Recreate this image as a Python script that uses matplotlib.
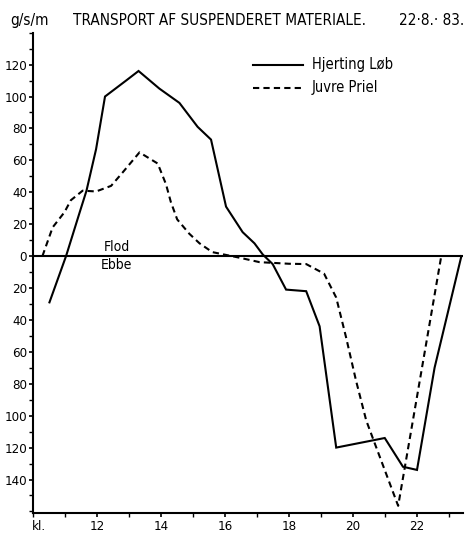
import matplotlib
matplotlib.use("Agg")
import matplotlib.pyplot as plt
from matplotlib.ticker import MultipleLocator, FixedLocator, FuncFormatter

plt.rcParams['font.family'] = ['DejaVu Sans']
plt.rcParams['font.stretch'] = 'condensed'

# Hourly suspended-sediment transport (g/s/m), positive = flood, negative = ebb
hjerting_hours = [10.5, 11.02, 11.44, 11.66, 11.96, 12.24, 12.9, 13.29, 13.94, 14.57,
                  15.14, 15.56, 16.03, 16.55, 16.92, 17.18, 17.49, 17.91, 18.54, 18.96,
                  19.48, 21.0, 21.57, 22.01, 22.56, 23.4]
hjerting_transport = [-29, 0, 27, 41, 67, 100, 110, 116, 105, 96,
                      81, 73, 31, 15, 8, 1, -5, -21, -22, -44,
                      -120, -114, -132, -134, -70, 0]

juvre_hours = [10.28, 10.6, 10.97, 11.17, 11.54, 11.96, 12.43, 12.8, 13.32, 13.89,
               14.15, 14.3, 14.5, 14.88, 15.2, 15.6, 16.45, 17.08, 18.0, 18.54,
               19.1, 19.48, 19.79, 20.1, 20.42, 20.68, 21.42, 22.77]
juvre_transport = [0, 18, 27.5, 35, 41, 40.5, 44, 52.6, 65, 58,
                   45, 34, 23, 14, 8, 2.5, -1, -3.8, -4.8, -5,
                   -11, -26, -51, -78, -103, -117, -156.5, 0]

x_tick_labels = [12, 14, 16, 18, 20, 22]
y_tick_values = [-140, -120, -100, -80, -60, -40, -20, 0, 20, 40, 60, 80, 100, 120]

fig = plt.figure(figsize=(4.67, 5.35), dpi=100)
ax = fig.add_axes([0.0717, 0.0411, 0.9197, 0.8978])

ax.plot(hjerting_hours, hjerting_transport, color='black', lw=1.5,
        solid_joinstyle='miter', label='Hjerting Løb')
ax.plot(juvre_hours, juvre_transport, color='black', lw=1.5,
        dashes=(3.0, 2.0), label='Juvre Priel')
ax.axhline(0, color='black', lw=1.5)

ax.set_xlim(10, 23.45)
ax.set_ylim(-161, 140)

for side in ('top', 'right'):
    ax.spines[side].set_visible(False)
ax.spines['left'].set_linewidth(1.5)
ax.spines['bottom'].set_linewidth(1.5)

ax.xaxis.set_major_locator(FixedLocator(x_tick_labels))
ax.xaxis.set_minor_locator(MultipleLocator(1))
ax.yaxis.set_major_locator(FixedLocator(y_tick_values))
ax.yaxis.set_minor_locator(MultipleLocator(10))
ax.yaxis.set_major_formatter(FuncFormatter(lambda v, p: f"{abs(int(round(v)))}"))
ax.tick_params(axis='both', which='major', length=3, width=1.2, labelsize=9.5, pad=1.5)
ax.tick_params(axis='both', which='minor', length=3, width=1.0)
ax.tick_params(axis='x', pad=2)

ax.text(12.2, 1.5, 'Flod', fontsize=10, ha='left', va='bottom')
ax.text(12.1, -1.5, 'Ebbe', fontsize=10, ha='left', va='top')
fig.text(0.068, 0.016, 'kl.', fontsize=9.5, ha='left', va='center')

# legend drawn as line samples with labels
leg_x0, leg_x1, leg_tx = 16.87, 18.43, 18.71
ax.plot([leg_x0, leg_x1], [120, 120], color='black', lw=1.5)
ax.text(leg_tx, 120, 'Hjerting Løb', fontsize=10.5, va='center', ha='left')
ax.plot([leg_x0, leg_x1], [105.5, 105.5], color='black', lw=1.5, dashes=(3.0, 2.0))
ax.text(leg_tx, 105.5, 'Juvre Priel', fontsize=10.5, va='center', ha='left')

fig.text(0.021, 0.962, 'g/s/m', fontsize=11, ha='left', va='center')
fig.text(0.156, 0.962, 'TRANSPORT AF SUSPENDERET MATERIALE.', fontsize=11,
         ha='left', va='center')
fig.text(0.995, 0.962, '22·8.· 83.', fontsize=11, ha='right', va='center')

fig.savefig('out.png', dpi=100)
